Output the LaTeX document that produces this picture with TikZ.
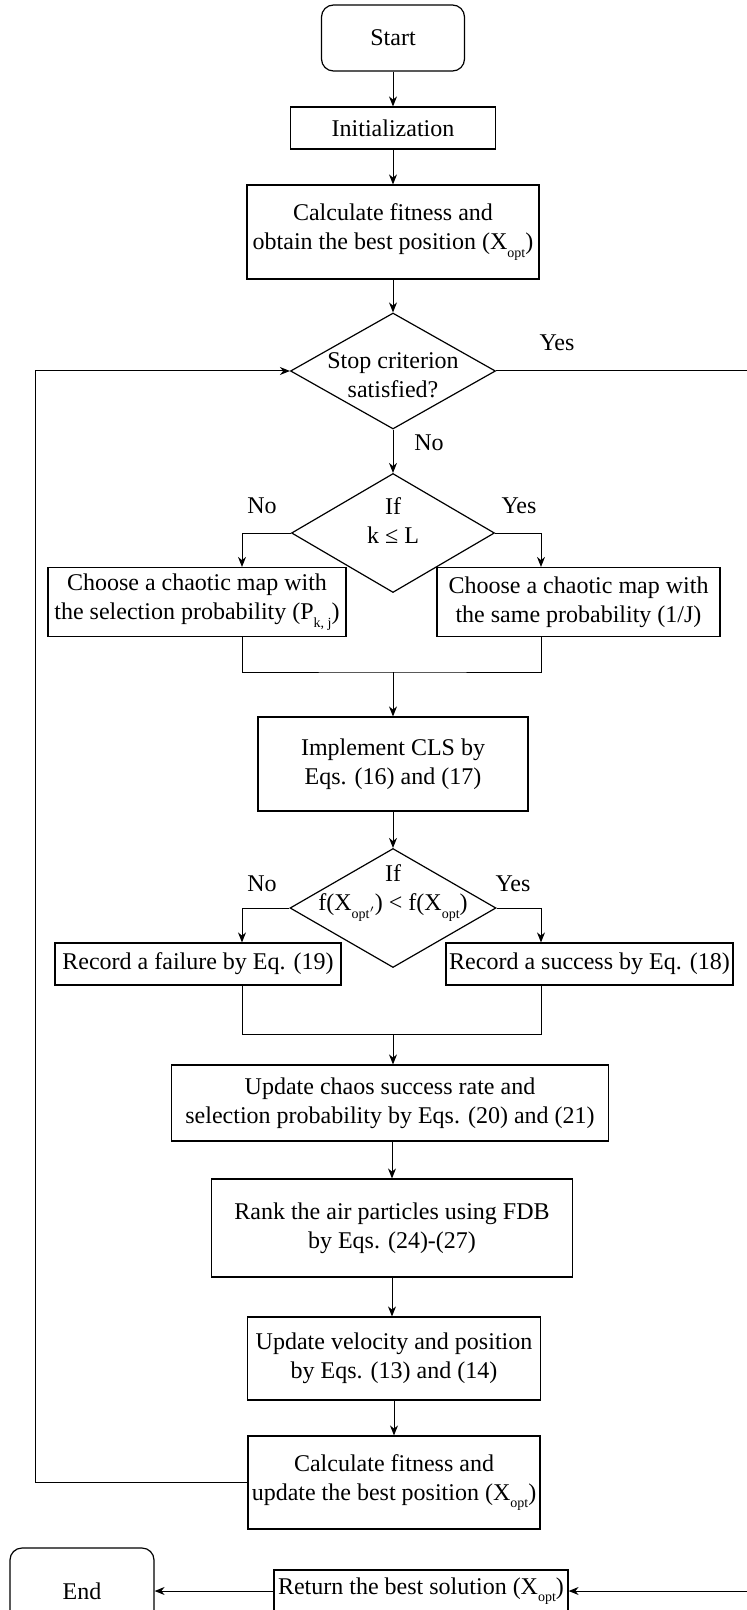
\documentclass[tikz,border=0pt]{standalone}
\usepackage{fontspec}
\setmainfont{Liberation Serif}
\usetikzlibrary{shapes.geometric,arrows.meta}
\newcommand{\xsub}[1]{\raisebox{-0.7ex}{\fontsize{7}{8}\selectfont #1}}

\tikzset{
  process/.style={draw, line width=0.6pt, align=center, inner sep=1pt},
  terminal/.style={process, rounded corners=6pt},
  decision/.style={draw, diamond, line width=0.6pt, inner sep=0pt},
  dtext/.style={align=center, inner sep=0pt},
  answer/.style={inner sep=0pt},
  flow/.style={->, line width=0.5pt}
}

\begin{document}
\begin{tikzpicture}[x=0.5pt,y=-0.5pt,>={Stealth[length=5pt,width=4pt]},font=\fontsize{12}{14.5}\selectfont]
  \useasboundingbox (0,0) rectangle (746,1610);

  \node[terminal, minimum width=71.5pt, minimum height=33pt] (start) at (393,38) {Start};
  \node[process, minimum width=102.5pt, minimum height=21pt] (init) at (393,128) {Initialization};
  \node[process, minimum width=146pt, minimum height=47pt] (fit) at (393,232) {Calculate fitness and\\obtain the best position (X\xsub{opt})};
  \node[decision, minimum width=102.5pt, minimum height=58pt] (stop) at (393,371) {};
  \node[dtext] (stoptext) at (393,375) {Stop criterion\\satisfied?};
  \node[decision, minimum width=101.5pt, minimum height=59.5pt] (iflk) at (393,533) {};
  \node[dtext] (iflktext) at (393,521) {If\\k ≤ L};
  \node[process, minimum width=149pt, minimum height=34.5pt] (roulette) at (197,602) {Choose a chaotic map with\\the selection probability (P\xsub{k, j})};
  \node[process, minimum width=141.5pt, minimum height=34.5pt] (uniform) at (578.5,602) {Choose a chaotic map with\\the same probability (1/J)};
  \node[process, minimum width=135pt, minimum height=47pt] (cls) at (393,764) {Implement CLS by\\Eqs. (16) and (17)};
  \node[decision, minimum width=103pt, minimum height=59.5pt] (better) at (393,908) {};
  \node[dtext] (bettertext) at (393,893) {If\\f(X\xsub{opt$'$}) < f(X\xsub{opt})};
  \node[process, minimum width=143pt, minimum height=21pt] (fail) at (198,964) {Record a failure by Eq. (19)};
  \node[process, minimum width=143.5pt, minimum height=21pt] (succ) at (589.5,964) {Record a success by Eq. (18)};
  \node[process, minimum width=218.5pt, minimum height=38pt] (rate) at (390,1103) {Update chaos success rate and\\selection probability by Eqs. (20) and (21)};
  \node[process, minimum width=180.5pt, minimum height=49pt] (rank) at (392,1228) {Rank the air particles using FDB\\by Eqs. (24)-(27)};
  \node[process, minimum width=146.5pt, minimum height=41.5pt] (move) at (394,1358.5) {Update velocity and position\\by Eqs. (13) and (14)};
  \node[process, minimum width=146pt, minimum height=46.5pt] (fit2) at (394,1482.5) {Calculate fitness and\\update the best position (X\xsub{opt})};
  \node[process, minimum width=147pt, minimum height=21pt] (ret) at (421,1591) {Return the best solution (X\xsub{opt})};
  \node[terminal, minimum width=72pt, minimum height=43pt] (end) at (82,1591) {End};

  \node[answer] (yes1) at (557,343) {Yes};
  \node[answer] (no1) at (429,443) {No};
  \node[answer] (no2) at (262,506) {No};
  \node[answer] (yes2) at (519,506) {Yes};
  \node[answer] (no3) at (262,884) {No};
  \node[answer] (yes3) at (513,884) {Yes};

  \coordinate (leftx) at (242,0);
  \coordinate (rightx) at (541,0);
  \coordinate (loopx) at (35,0);
  \coordinate (exitx) at (770,0);
  \coordinate (join1) at (393,672);
  \coordinate (join2) at (393,1034);

  \draw[flow] (start) -- (init);
  \draw[flow] (init) -- (fit);
  \draw[flow] (fit) -- (stop);
  \draw[flow] (stop) -- (iflk);
  \draw[flow] (iflk.west) -| (leftx |- roulette.north);
  \draw[flow] (iflk.east) -| (rightx |- uniform.north);
  \draw[line width=0.5pt] (leftx |- roulette.south) |- (join1) -| (rightx |- uniform.south);
  \draw[flow] (join1) -- (cls);
  \draw[flow] (cls) -- (better);
  \draw[flow] (better.west) -| (leftx |- fail.north);
  \draw[flow] (better.east) -| (rightx |- succ.north);
  \draw[line width=0.5pt] (leftx |- fail.south) |- (join2) -| (rightx |- succ.south);
  \draw[flow] (join2) -- (join2 |- rate.north);
  \draw[flow] (rate.south -| rank) -- (rank);
  \draw[flow] (rank) -- (rank |- move.north);
  \draw[flow] (move) -- (fit2);
  \draw[flow] (fit2.west) -| (loopx |- stop) -- (stop.west);
  \draw[flow] (stop.east) -| (exitx |- ret) -- (ret.east);
  \draw[flow] (ret) -- (end);
\end{tikzpicture}
\end{document}
